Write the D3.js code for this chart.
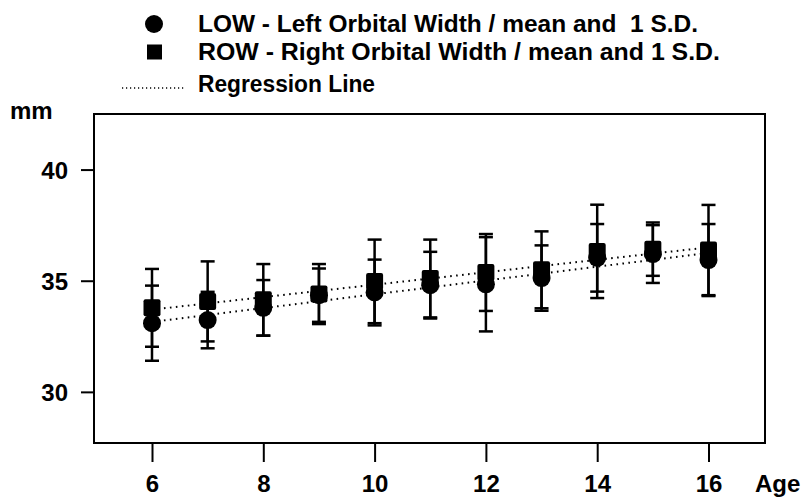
<!DOCTYPE html>
<html>
<head>
<meta charset="utf-8">
<script src="https://cdn.jsdelivr.net/npm/d3@7"></script>
<style>
  body { margin: 0; background: #fff; }
  svg { display: block; font-family: "Liberation Sans", Arial, sans-serif; font-weight: bold; }
</style>
</head>
<body>
<div id="chart"></div>
<script>
// Orbital width by age
const ages = [6, 7, 8, 9, 10, 11, 12, 13, 14, 15, 16];
const lowMean = [33.09, 33.23, 33.78, 34.35, 34.47, 34.8, 34.84, 35.12, 36.03, 36.2, 35.93];
const lowSD = [1.69, 1.27, 1.25, 1.2, 1.48, 1.5, 2.12, 1.47, 1.52, 1.3, 1.62];
const rowMean = [33.78, 34.07, 34.14, 34.4, 34.97, 35.1, 35.37, 35.49, 36.32, 36.42, 36.38];
const rowSD = [1.75, 1.8, 1.61, 1.35, 1.88, 1.75, 1.73, 1.73, 2.1, 1.2, 2.03];

// regression lines, endpoints at the first and last age
const regAges = [6, 16];
const lowReg = [33.15, 36.25];
const rowReg = [33.7, 36.5];

const xTicks = [6, 8, 10, 12, 14, 16];
const yTicks = [30, 35, 40];

const legendItems = [
  { label: "LOW - Left Orbital Width / mean and  1 S.D.", shape: "circle", len: 500 },
  { label: "ROW - Right Orbital Width / mean and 1 S.D.", shape: "square", len: 522 },
  { label: "Regression Line", shape: "line", len: 177 },
];

const width = 808, height = 500;
const frame = { left: 94, right: 765, top: 114, bottom: 443 };

const svg = d3.select("#chart").append("svg")
  .attr("width", width)
  .attr("height", height);

const x = d3.scaleLinear().domain([6, 16]).range([152, 708.5]);
const y = d3.scaleLinear().domain([27.7, 42.5]).range([frame.bottom, frame.top]);

// axes
const xAxis = svg.append("g")
  .attr("transform", `translate(0,${frame.bottom})`)
  .call(d3.axisBottom(x).tickValues(xTicks).tickSize(19).tickSizeOuter(0).tickPadding(13));
const yAxis = svg.append("g")
  .attr("transform", `translate(${frame.left},0)`)
  .call(d3.axisLeft(y).tickValues(yTicks).tickSize(13).tickSizeOuter(0).tickPadding(13));

[xAxis, yAxis].forEach((a) => {
  a.select(".domain").remove();
  a.selectAll("line").attr("stroke", "#000").attr("stroke-width", 2);
  a.selectAll("text")
    .attr("fill", "#000")
    .style("font-size", "24px")
    .style("font-weight", "bold")
    .style("font-family", "'Liberation Sans', Arial, sans-serif");
});
yAxis.selectAll("text").attr("dy", "0.36em");

// frame
svg.append("rect")
  .attr("x", frame.left)
  .attr("y", frame.top)
  .attr("width", frame.right - frame.left)
  .attr("height", frame.bottom - frame.top)
  .attr("fill", "none")
  .attr("stroke", "#000")
  .attr("stroke-width", 2);

// axis titles
svg.append("text").attr("x", 10).attr("y", 119).style("font-size", "24px").text("mm");
svg.append("text").attr("x", 755).attr("y", 492).style("font-size", "24px").text("Age");

// regression lines
const line = d3.line().x((d) => x(d[0])).y((d) => y(d[1]));
[lowReg, rowReg].forEach((reg) => {
  svg.append("path")
    .attr("d", line(regAges.map((a, i) => [a, reg[i]])))
    .attr("fill", "none")
    .attr("stroke", "#000")
    .attr("stroke-width", 2)
    .attr("stroke-dasharray", "1.6,4.4");
});

// error bars
const series = [
  { mean: lowMean, sd: lowSD, shape: "circle" },
  { mean: rowMean, sd: rowSD, shape: "square" },
];
const capW = 7;
series.forEach((s) => {
  const g = svg.append("g");
  ages.forEach((a, i) => {
    const cx = x(a);
    const hi = y(s.mean[i] + s.sd[i]);
    const lo = y(s.mean[i] - s.sd[i]);
    g.append("line").attr("x1", cx).attr("x2", cx).attr("y1", hi).attr("y2", lo)
      .attr("stroke", "#000").attr("stroke-width", 2.5);
    [hi, lo].forEach((cy) => {
      g.append("line").attr("x1", cx - capW).attr("x2", cx + capW).attr("y1", cy).attr("y2", cy)
        .attr("stroke", "#000").attr("stroke-width", 2.5);
    });
  });
});

// markers
series.forEach((s) => {
  const g = svg.append("g");
  ages.forEach((a, i) => {
    if (s.shape === "circle") {
      g.append("circle").attr("cx", x(a)).attr("cy", y(s.mean[i])).attr("r", 9).attr("fill", "#000");
    } else {
      g.append("rect")
        .attr("x", x(a) - 8.5).attr("y", y(s.mean[i]) - 8.5)
        .attr("width", 17).attr("height", 17).attr("rx", 2)
        .attr("fill", "#000");
    }
  });
});

// legend
const legend = svg.append("g").attr("class", "legend");
const legendY = [24, 52, 84];
legendItems.forEach((d, i) => {
  const cy = legendY[i];
  if (d.shape === "circle") {
    legend.append("circle").attr("cx", 154).attr("cy", cy).attr("r", 9).attr("fill", "#000");
  } else if (d.shape === "square") {
    legend.append("rect").attr("x", 147).attr("y", cy - 7.5).attr("width", 15).attr("height", 15).attr("fill", "#000");
  } else {
    legend.append("line").attr("x1", 122).attr("x2", 186).attr("y1", cy + 4).attr("y2", cy + 4)
      .attr("stroke", "#000").attr("stroke-width", 1.3).attr("stroke-dasharray", "1.2,2.8");
  }
  legend.append("text")
    .attr("x", 198)
    .attr("y", cy + 8)
    .attr("textLength", d.len)
    .attr("lengthAdjust", "spacingAndGlyphs")
    .style("font-size", "23px")
    .style("white-space", "pre")
    .text(d.label);
});
</script>
</body>
</html>
